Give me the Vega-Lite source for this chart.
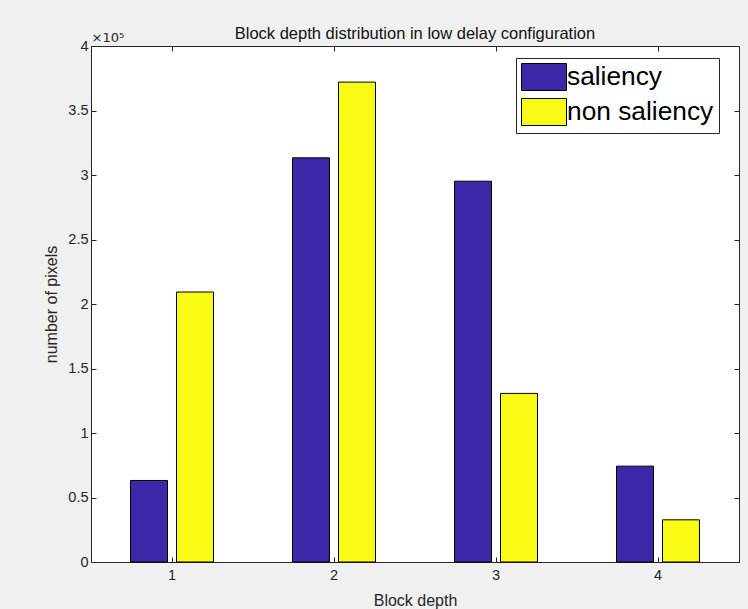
{
  "$schema": "https://vega.github.io/schema/vega-lite/v6.json",
  "width": 648,
  "height": 516,
  "autosize": {"type": "none"},
  "padding": {"left": 91, "top": 46, "right": 9, "bottom": 47},
  "background": "#f0f0f0",
  "title": {
    "text": "Block depth distribution in low delay configuration",
    "font": "Liberation Sans",
    "fontSize": 16.5,
    "fontWeight": "normal",
    "color": "#111111",
    "anchor": "middle",
    "offset": 4,
    "dy": 15
  },
  "data": {
    "values": [
      {"depth": "1", "series": "saliency", "pixels": 63200},
      {"depth": "1", "series": "non saliency", "pixels": 209300},
      {"depth": "2", "series": "saliency", "pixels": 313300},
      {"depth": "2", "series": "non saliency", "pixels": 372000},
      {"depth": "3", "series": "saliency", "pixels": 295200},
      {"depth": "3", "series": "non saliency", "pixels": 130700},
      {"depth": "4", "series": "saliency", "pixels": 74300},
      {"depth": "4", "series": "non saliency", "pixels": 32700}
    ]
  },
  "layer": [
    {
      "mark": {"type": "bar", "stroke": "#000000", "strokeWidth": 1},
      "encoding": {
        "x": {
          "field": "depth",
          "type": "ordinal",
          "scale": {"paddingInner": 0.488, "paddingOuter": 0.244},
          "axis": {
            "orient": "bottom",
            "title": "Block depth",
            "labelAngle": 0,
            "labelPadding": 11,
            "titlePadding": 11
          }
        },
        "xOffset": {
          "field": "series",
          "type": "nominal",
          "scale": {"domain": ["saliency", "non saliency"], "paddingInner": 0.196, "paddingOuter": 0}
        },
        "y": {
          "field": "pixels",
          "type": "quantitative",
          "scale": {"domain": [0, 400000], "nice": false, "zero": true},
          "axis": {
            "orient": "left",
            "title": "number of pixels",
            "values": [0, 50000, 100000, 150000, 200000, 250000, 300000, 350000, 400000],
            "labelExpr": "format(datum.value / 100000, '~g')",
            "labelPadding": 8,
            "titlePadding": 8
          }
        },
        "color": {
          "field": "series",
          "type": "nominal",
          "scale": {"domain": ["saliency", "non saliency"], "range": ["#3e26a8", "#f9fb15"]},
          "legend": {
            "title": null,
            "orient": "none",
            "legendX": 425,
            "legendY": 12,
            "symbolType": "M-1.667,-1H1.667V1H-1.667Z",
            "symbolSize": 729,
            "symbolOffset": 9,
            "symbolStrokeColor": "#000000",
            "symbolStrokeWidth": 1,
            "symbolOpacity": 1,
            "labelFont": "Liberation Sans",
            "labelFontSize": 26.3,
            "labelColor": "#000000",
            "labelOffset": 9,
            "labelLimit": 400,
            "padding": 5,
            "rowPadding": 3,
            "strokeColor": "#262626",
            "fillColor": "#ffffff"
          }
        }
      }
    },
    {
      "mark": {"type": "point", "opacity": 0},
      "encoding": {
        "x": {
          "field": "depth",
          "type": "ordinal",
          "axis": {
            "orient": "top",
            "labels": false,
            "title": "×10⁵",
            "titleFont": "DejaVu Sans",
            "titleAnchor": "start",
            "titleAlign": "left",
            "titleFontSize": 13,
            "titlePadding": 1
          }
        },
        "y": {
          "field": "pixels",
          "type": "quantitative",
          "axis": {
            "orient": "right",
            "labels": false,
            "title": null,
            "values": [0, 50000, 100000, 150000, 200000, 250000, 300000, 350000, 400000]
          }
        }
      }
    }
  ],
  "resolve": {"axis": {"x": "independent", "y": "independent"}},
  "config": {
    "view": {"fill": "#ffffff", "stroke": "#262626", "strokeWidth": 1},
    "axis": {
      "grid": false,
      "domainColor": "#262626",
      "domainWidth": 1,
      "tickColor": "#262626",
      "tickWidth": 1,
      "tickSize": -5,
      "labelFont": "Liberation Sans",
      "labelFontSize": 14.5,
      "labelColor": "#262626",
      "titleFont": "Liberation Sans",
      "titleFontSize": 16,
      "titleFontWeight": "normal",
      "titleColor": "#262626"
    }
  }
}
